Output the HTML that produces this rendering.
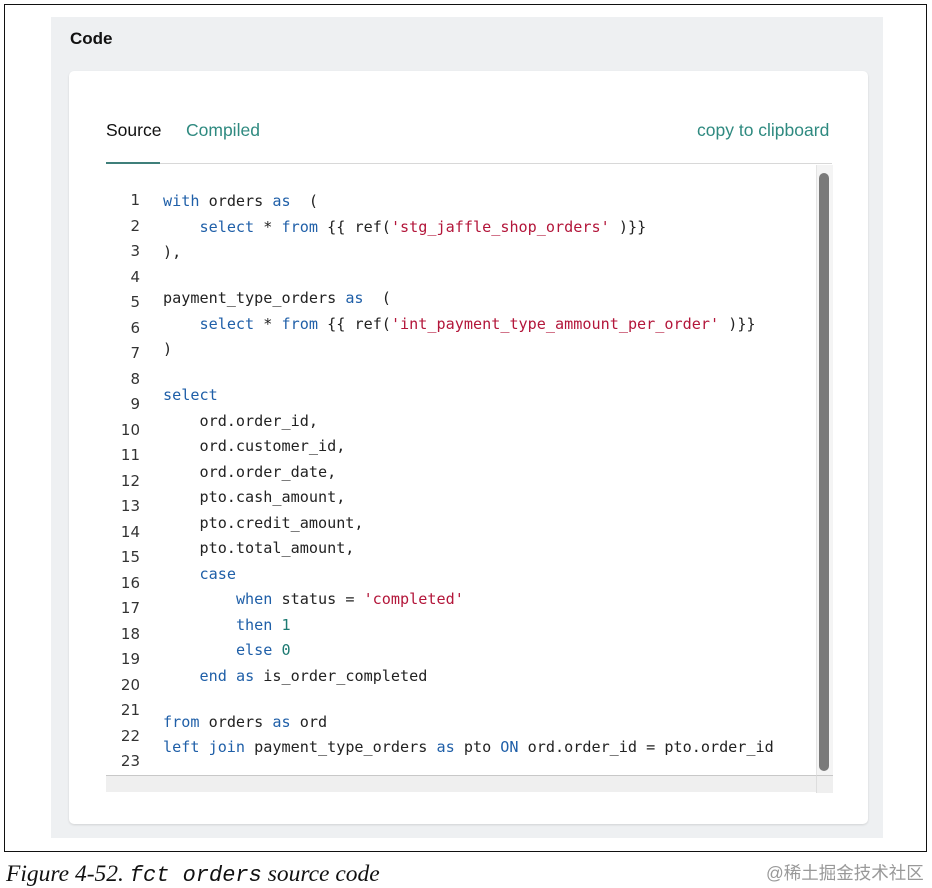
<!DOCTYPE html>
<html><head><meta charset="utf-8"><style>
body{margin:0;width:932px;height:886px;background:#fff;position:relative;overflow:hidden;font-family:"Liberation Sans",sans-serif}
.frame{position:absolute;left:4px;top:4px;width:923px;height:848px;border:1px solid #111;box-sizing:border-box}
.panel{position:absolute;left:51px;top:17px;width:832px;height:821px;background:#eef0f2}
.title{position:absolute;left:70px;top:29px;font-weight:bold;font-size:17px;color:#111}
.card{position:absolute;left:69px;top:71px;width:799px;height:753px;background:#fff;border-radius:5px;box-shadow:0 1px 2px rgba(0,0,0,.12)}
.tab{position:absolute;top:120px;font-size:17.5px}
.uline{position:absolute;left:106px;top:163px;width:726px;height:1px;background:#d8d8d8}
.uact{position:absolute;left:106px;top:162px;width:54px;height:2px;background:#3f7f7a}
.hbar{position:absolute;left:106px;top:775px;width:710px;height:16px;background:#efefef;border-top:1px solid #c8c8c8}
.corner{position:absolute;left:816px;top:775px;width:16px;height:17px;background:#efefef;border-top:1px solid #c8c8c8;border-left:1px solid #ddd}
.vtrack{position:absolute;left:816px;top:165px;width:16px;height:610px;background:#f4f4f4;border-left:1px solid #e4e4e4}
.thumb{position:absolute;left:819px;top:173px;width:10px;height:598px;background:#7a7a7a;border-radius:5px}
.ln{position:absolute;margin:0;top:188px;left:118px;width:22px;text-align:right;color:#333;font-family:"DejaVu Sans",sans-serif;font-size:15px;line-height:25.5px;white-space:pre}
.src{position:absolute;left:163px;top:189px;font-family:"DejaVu Sans Mono",monospace;font-size:15.15px;color:#222}
.src div{height:25.5px;line-height:25.5px;white-space:pre}
.src div.b{height:20.5px}
.k{color:#1f5fa8}.s{color:#b3163a}.n{color:#1d7a72}
.cap{position:absolute;left:6px;top:861px;font-family:"Liberation Serif",serif;font-style:italic;font-size:23.5px;color:#111}
.cap code{font-family:"Liberation Mono",monospace;font-style:italic;font-size:22px}
.wm{position:absolute;left:766px;top:860px;font-size:17.5px;color:#999;font-family:"Liberation Sans","Noto Sans CJK SC",sans-serif}
</style></head><body>
<div class="frame"></div>
<div class="panel"></div>
<div class="title">Code</div>
<div class="card"></div>
<div class="tab" style="left:106px;color:#111">Source</div>
<div class="tab" style="left:186px;color:#2f8a80">Compiled</div>
<div class="tab" style="left:697px;color:#2f8a80">copy to clipboard</div>
<div class="uline"></div><div class="uact"></div>
<div class="vtrack"></div><div class="thumb"></div>
<div class="hbar"></div><div class="corner"></div>
<div class="ln">1
2
3
4
5
6
7
8
9
10
11
12
13
14
15
16
17
18
19
20
21
22
23</div>
<div class="src"><div><span class="k">with</span> orders <span class="k">as</span>  (</div><div>    <span class="k">select</span> * <span class="k">from</span> {{ ref(<span class="s">'stg_jaffle_shop_orders'</span> )}}</div><div>),</div><div class="b"></div><div>payment_type_orders <span class="k">as</span>  (</div><div>    <span class="k">select</span> * <span class="k">from</span> {{ ref(<span class="s">'int_payment_type_ammount_per_order'</span> )}}</div><div>)</div><div class="b"></div><div><span class="k">select</span></div><div>    ord.order_id,</div><div>    ord.customer_id,</div><div>    ord.order_date,</div><div>    pto.cash_amount,</div><div>    pto.credit_amount,</div><div>    pto.total_amount,</div><div>    <span class="k">case</span></div><div>        <span class="k">when</span> status = <span class="s">'completed'</span></div><div>        <span class="k">then</span> <span class="n">1</span></div><div>        <span class="k">else</span> <span class="n">0</span></div><div>    <span class="k">end</span> <span class="k">as</span> is_order_completed</div><div class="b"></div><div><span class="k">from</span> orders <span class="k">as</span> ord</div><div><span class="k">left join</span> payment_type_orders <span class="k">as</span> pto <span class="k">ON</span> ord.order_id = pto.order_id</div></div>
<div class="cap">Figure 4-52. <code>fct orders</code> source code</div>
<div class="wm">@稀土掘金技术社区</div>
</body></html>
